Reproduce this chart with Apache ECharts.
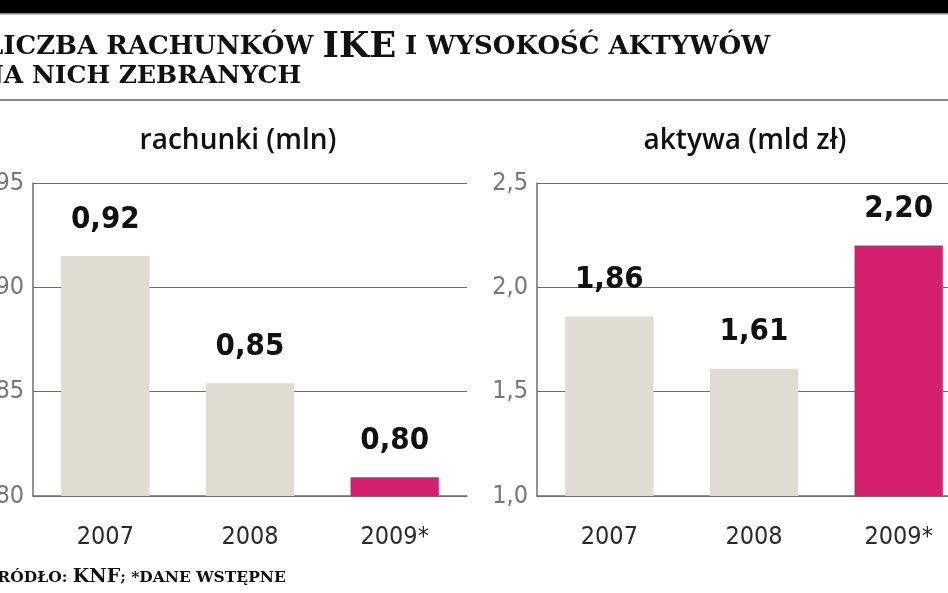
<!DOCTYPE html>
<html>
<head>
<meta charset="utf-8">
<script src="https://cdn.jsdelivr.net/npm/echarts@6/dist/echarts.min.js"></script>
<style>
  html, body { margin: 0; padding: 0; background: #fff; }
  #chart { width: 948px; height: 593px; }
</style>
</head>
<body>
<div id="chart"></div>
<script>
// lata (kategorie)
const years = ['2007', '2008', '2009*']
// liczba rachunków IKE (mln) - wysokości słupków
const accounts = [0.915, 0.854, 0.809]
const accountsText = ['0,92', '0,85', '0,80']
// aktywa (mld zł)
const assets = [1.86, 1.61, 2.20]
const assetsText = ['1,86', '1,61', '2,20']
// podziałki osi
const accountsTicks = { min: 0.8, max: 0.95, interval: 0.05 }
const assetsTicks = { min: 1.0, max: 2.5, interval: 0.5 }

const beige = '#deddd1'
const magenta = '#d4206f'
const lineGray = '#6e6e6e'

const chart = echarts.init(document.getElementById('chart'))

function barData (values) {
  // ostatni rok (dane wstępne) na różowo
  return values.map((v, i) => ({
    value: v,
    itemStyle: { color: i === values.length - 1 ? magenta : beige }
  }))
}

function xAxisOf (gridIndex) {
  return {
    type: 'category',
    gridIndex: gridIndex,
    data: years,
    axisTick: { show: false },
    axisLine: { lineStyle: { color: lineGray, width: 1.5 } },
    axisLabel: {
      margin: 29,
      color: '#2a2a2a',
      fontFamily: 'DejaVu Sans Condensed',
      fontSize: 25
    },
    z: 1
  }
}

function yAxisOf (gridIndex, ticks, digits) {
  return {
    type: 'value',
    gridIndex: gridIndex,
    min: ticks.min,
    max: ticks.max,
    interval: ticks.interval,
    axisLine: { show: true, lineStyle: { color: lineGray, width: 1.5 } },
    axisTick: { show: false },
    splitLine: { lineStyle: { color: lineGray, width: 1.2 } },
    axisLabel: {
      margin: 9,
      color: '#777',
      fontFamily: 'DejaVu Sans Condensed',
      fontSize: 25,
      formatter: v => v.toFixed(digits).replace('.', ',')
    }
  }
}

function seriesOf (index, values, texts) {
  return {
    type: 'bar',
    xAxisIndex: index,
    yAxisIndex: index,
    data: barData(values),
    barWidth: '61%',
    z: 3,
    label: {
      show: true,
      position: 'top',
      distance: 21,
      color: '#111',
      fontFamily: 'DejaVu Sans Condensed',
      fontWeight: 'bold',
      fontSize: 31,
      formatter: p => texts[p.dataIndex]
    }
  }
}

const option = {
  animation: false,
  backgroundColor: '#fff',
  grid: [
    { left: 33, top: 183, width: 434, height: 313, containLabel: false, outerBoundsMode: 'none' },
    { left: 537, top: 183, width: 434, height: 313, containLabel: false, outerBoundsMode: 'none' }
  ],
  xAxis: [xAxisOf(0), xAxisOf(1)],
  yAxis: [yAxisOf(0, accountsTicks, 2), yAxisOf(1, assetsTicks, 1)],
  series: [
    seriesOf(0, accounts, accountsText),
    seriesOf(1, assets, assetsText)
  ],
  graphic: [
    // czarny pasek u góry
    { type: 'rect', shape: { x: 0, y: 0, width: 948, height: 13 }, style: { fill: '#000' } },
    { type: 'rect', shape: { x: 0, y: 13, width: 948, height: 1.5 }, style: { fill: '#888' } },
    // tytuł
    {
      type: 'text', x: -15, y: 30,
      style: {
        text: '{s|LICZBA RACHUNKÓW }{c|IKE}{s| I WYSOKOŚĆ AKTYWÓW}',
        rich: {
          s: { fontFamily: 'DejaVu Serif', fontWeight: 'bold', fontSize: 26, fill: '#111' },
          c: { fontFamily: 'DejaVu Serif', fontWeight: 'bold', fontSize: 35, fill: '#111' }
        },
        verticalAlign: 'top'
      }
    },
    {
      type: 'text', x: -19, y: 64,
      style: {
        text: 'NA NICH ZEBRANYCH',
        fontFamily: 'DejaVu Serif', fontWeight: 'bold', fontSize: 25, fill: '#111'
      }
    },
    { type: 'rect', shape: { x: 0, y: 99, width: 948, height: 2 }, style: { fill: '#8a8a8a' } },
    // podtytuły paneli
    {
      type: 'text', x: 238, y: 141,
      style: {
        text: 'rachunki (mln)', align: 'center', verticalAlign: 'middle',
        fontFamily: 'Open Sans', fontWeight: 600, fontSize: 28, fill: '#111'
      }
    },
    {
      type: 'text', x: 745, y: 141,
      style: {
        text: 'aktywa (mld zł)', align: 'center', verticalAlign: 'middle',
        fontFamily: 'Open Sans', fontWeight: 600, fontSize: 28, fill: '#111'
      }
    },
    // źródło
    {
      type: 'text', x: -14, y: 568,
      style: {
        text: '{s|ŹRÓDŁO: }{c|KNF}{s|; *DANE WSTĘPNE}',
        rich: {
          s: { fontFamily: 'DejaVu Serif', fontWeight: 'bold', fontSize: 15.5, fill: '#111' },
          c: { fontFamily: 'DejaVu Serif', fontWeight: 'bold', fontSize: 19, fill: '#111' }
        },
        verticalAlign: 'top'
      }
    }
  ]
}

chart.setOption(option)
</script>
</body>
</html>
